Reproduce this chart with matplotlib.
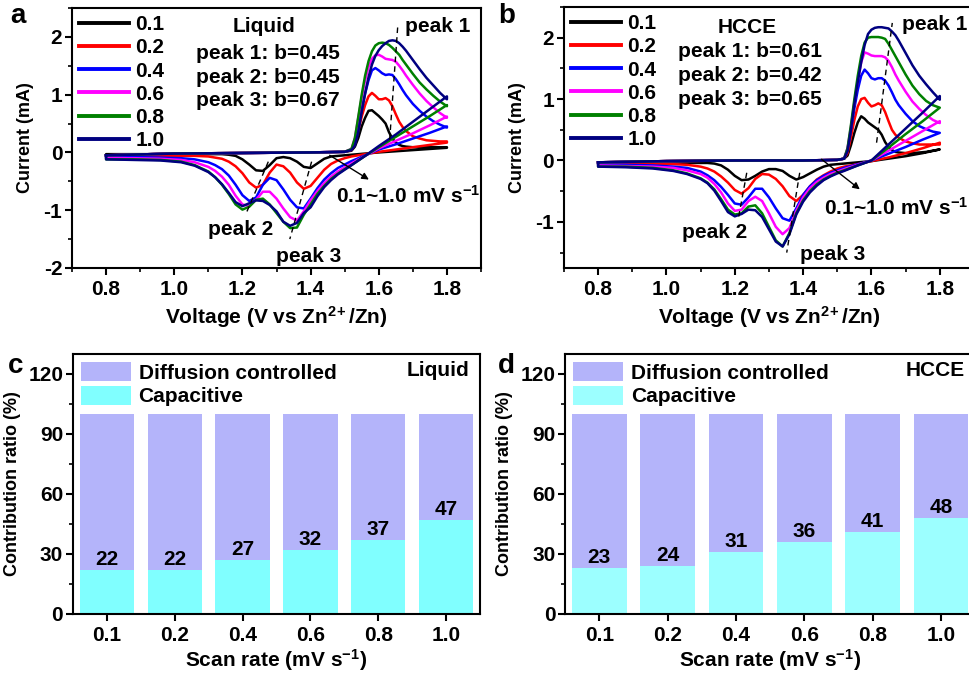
import numpy as np
import matplotlib
matplotlib.use('Agg')
import matplotlib.pyplot as plt
from matplotlib.ticker import MultipleLocator

plt.rcParams['font.family'] = 'Liberation Sans'
plt.rcParams['font.weight'] = 'bold'
plt.rcParams['axes.labelweight'] = 'bold'
plt.rcParams['mathtext.fontset'] = 'custom'
plt.rcParams['mathtext.bf'] = 'Liberation Sans:bold'
plt.rcParams['mathtext.rm'] = 'Liberation Sans:bold'
plt.rcParams['mathtext.default'] = 'bf'
plt.rcParams['axes.unicode_minus'] = False

# scan rates (mV/s)
rates = ['0.1', '0.2', '0.4', '0.6', '0.8', '1.0']
colors = ['black', 'red', 'blue', 'magenta', 'green', 'navy']

# voltage grids for the anodic (up) and cathodic (down) sweeps
v_up = [0.80, 1.00, 1.20, 1.40, 1.50, 1.52, 1.53, 1.54, 1.55, 1.56, 1.57, 1.58, 1.59, 1.60,
        1.61, 1.62, 1.63, 1.64, 1.65, 1.66, 1.67, 1.68, 1.70, 1.72, 1.74, 1.76, 1.78, 1.80]
v_down = [1.80, 1.75, 1.70, 1.65, 1.60, 1.56, 1.52, 1.50, 1.48, 1.46, 1.44, 1.42, 1.40, 1.38,
          1.36, 1.34, 1.32, 1.30, 1.28, 1.26, 1.24, 1.22, 1.20, 1.18, 1.16, 1.14, 1.12, 1.10,
          1.06, 1.02, 0.96, 0.88, 0.80]

# ---- liquid electrolyte CV (mA)
liq_up_01 = [-0.05, -0.02, -0.01, 0.0, 0.01, 0.03, 0.10, 0.25, 0.45, 0.60, 0.72, 0.73, 0.68, 0.63,
             0.57, 0.50, 0.35, 0.24, 0.17, 0.13, 0.11, 0.10, 0.09, 0.09, 0.09, 0.09, 0.09, 0.09]
liq_up_02 = [-0.05, -0.02, -0.01, 0.0, 0.01, 0.04, 0.15, 0.38, 0.62, 0.82, 0.97, 1.03, 0.98, 0.92,
             0.92, 0.94, 0.90, 0.80, 0.66, 0.53, 0.44, 0.37, 0.28, 0.24, 0.21, 0.20, 0.19, 0.19]
liq_up_04 = [-0.05, -0.02, -0.01, 0.0, 0.01, 0.05, 0.20, 0.48, 0.75, 1.02, 1.25, 1.42, 1.46, 1.42,
             1.37, 1.34, 1.35, 1.34, 1.27, 1.18, 1.08, 0.99, 0.84, 0.72, 0.62, 0.54, 0.48, 0.43]
liq_up_06 = [-0.05, -0.02, -0.01, 0.0, 0.01, 0.06, 0.25, 0.60, 0.95, 1.25, 1.48, 1.62, 1.68, 1.69,
             1.66, 1.62, 1.61, 1.60, 1.57, 1.50, 1.42, 1.33, 1.17, 1.02, 0.89, 0.78, 0.68, 0.60]
liq_up_08 = [-0.05, -0.02, -0.01, 0.0, 0.01, 0.06, 0.25, 0.62, 1.00, 1.33, 1.58, 1.75, 1.85, 1.89,
             1.90, 1.89, 1.86, 1.81, 1.75, 1.69, 1.60, 1.52, 1.36, 1.21, 1.09, 0.98, 0.88, 0.80]
liq_up_10 = [-0.05, -0.02, -0.01, 0.0, 0.01, 0.04, 0.12, 0.35, 0.70, 1.02, 1.30, 1.52, 1.67, 1.77,
             1.84, 1.89, 1.93, 1.94, 1.93, 1.89, 1.83, 1.76, 1.60, 1.44, 1.29, 1.16, 1.03, 0.92]

liq_dn_01 = [0.08, 0.06, 0.04, 0.02, 0.0, -0.02, -0.04, -0.05, -0.06, -0.07, -0.11, -0.19, -0.27,
             -0.25, -0.16, -0.10, -0.08, -0.10, -0.22, -0.32, -0.31, -0.21, -0.12, -0.06, -0.04,
             -0.03, -0.03, -0.03, -0.03, -0.03, -0.03, -0.03, -0.03]
liq_dn_02 = [0.17, 0.13, 0.09, 0.05, 0.01, -0.03, -0.07, -0.10, -0.14, -0.20, -0.30, -0.44, -0.58,
             -0.63, -0.52, -0.35, -0.24, -0.21, -0.35, -0.56, -0.61, -0.52, -0.36, -0.24, -0.16,
             -0.11, -0.09, -0.07, -0.06, -0.06, -0.06, -0.06, -0.06]
liq_dn_04 = [0.45, 0.34, 0.24, 0.14, 0.05, -0.05, -0.15, -0.21, -0.27, -0.36, -0.47, -0.62, -0.80,
             -0.97, -0.95, -0.82, -0.64, -0.48, -0.44, -0.56, -0.78, -0.84, -0.74, -0.56, -0.40,
             -0.29, -0.22, -0.17, -0.12, -0.10, -0.09, -0.08, -0.08]
liq_dn_06 = [0.62, 0.47, 0.33, 0.20, 0.07, -0.06, -0.19, -0.26, -0.33, -0.42, -0.53, -0.67, -0.83,
             -1.02, -1.18, -1.12, -0.97, -0.80, -0.68, -0.68, -0.82, -0.93, -0.90, -0.75, -0.56,
             -0.42, -0.32, -0.25, -0.17, -0.13, -0.11, -0.10, -0.10]
liq_dn_08 = [0.82, 0.63, 0.45, 0.27, 0.09, -0.06, -0.22, -0.29, -0.37, -0.46, -0.58, -0.72, -0.90,
             -1.08, -1.30, -1.31, -1.20, -1.05, -0.90, -0.80, -0.82, -0.94, -0.99, -0.90, -0.72,
             -0.56, -0.43, -0.33, -0.22, -0.16, -0.13, -0.12, -0.12]
liq_dn_10 = [0.97, 0.75, 0.53, 0.31, 0.11, -0.06, -0.22, -0.30, -0.38, -0.48, -0.60, -0.76, -0.95,
             -1.05, -1.22, -1.27, -1.20, -1.02, -0.91, -0.84, -0.83, -0.88, -0.93, -0.86, -0.70,
             -0.55, -0.43, -0.34, -0.23, -0.17, -0.14, -0.13, -0.12]

# ---- HCCE CV (mA)
hcce_up_01 = [-0.03, -0.01, 0.0, 0.0, 0.01, 0.03, 0.08, 0.25, 0.45, 0.62, 0.72, 0.68, 0.62, 0.58,
              0.54, 0.50, 0.42, 0.30, 0.22, 0.17, 0.14, 0.13, 0.12, 0.12, 0.13, 0.14, 0.16, 0.18]
hcce_up_02 = [-0.03, -0.01, 0.0, 0.0, 0.01, 0.03, 0.12, 0.38, 0.66, 0.88, 1.00, 1.02, 0.94, 0.88,
              0.90, 0.93, 0.90, 0.79, 0.64, 0.50, 0.42, 0.37, 0.31, 0.28, 0.26, 0.26, 0.26, 0.26]
hcce_up_04 = [-0.03, -0.01, 0.0, 0.0, 0.01, 0.03, 0.18, 0.50, 0.85, 1.15, 1.38, 1.48, 1.42, 1.34,
              1.32, 1.34, 1.34, 1.30, 1.22, 1.11, 0.99, 0.90, 0.76, 0.64, 0.56, 0.51, 0.47, 0.45]
hcce_up_06 = [-0.03, -0.01, 0.0, 0.0, 0.01, 0.03, 0.20, 0.55, 0.95, 1.30, 1.60, 1.76, 1.74, 1.71,
              1.70, 1.70, 1.70, 1.68, 1.62, 1.52, 1.40, 1.30, 1.12, 0.96, 0.84, 0.74, 0.66, 0.61]
hcce_up_08 = [-0.03, -0.01, 0.0, 0.0, 0.01, 0.03, 0.20, 0.58, 1.00, 1.38, 1.70, 1.92, 2.00, 2.01,
              2.01, 2.01, 2.00, 1.98, 1.90, 1.80, 1.70, 1.60, 1.40, 1.22, 1.08, 0.97, 0.90, 0.86]
hcce_up_10 = [-0.03, -0.01, 0.0, 0.0, 0.01, 0.03, 0.15, 0.50, 0.92, 1.28, 1.60, 1.88, 2.06, 2.13,
              2.16, 2.17, 2.17, 2.16, 2.15, 2.10, 2.04, 1.95, 1.75, 1.55, 1.38, 1.24, 1.11, 0.99]

hcce_dn_01 = [0.18, 0.12, 0.07, 0.03, -0.01, -0.03, -0.05, -0.06, -0.07, -0.10, -0.15, -0.21, -0.27,
              -0.31, -0.25, -0.17, -0.14, -0.14, -0.18, -0.25, -0.31, -0.32, -0.25, -0.15, -0.08,
              -0.05, -0.04, -0.04, -0.04, -0.03, -0.03, -0.03, -0.03]
hcce_dn_02 = [0.29, 0.20, 0.12, 0.05, -0.01, -0.06, -0.10, -0.13, -0.18, -0.24, -0.31, -0.42, -0.56,
              -0.66, -0.58, -0.42, -0.30, -0.23, -0.22, -0.30, -0.45, -0.54, -0.48, -0.36, -0.26,
              -0.18, -0.13, -0.10, -0.07, -0.06, -0.05, -0.05, -0.05]
hcce_dn_04 = [0.45, 0.34, 0.22, 0.11, 0.0, -0.06, -0.12, -0.16, -0.20, -0.25, -0.32, -0.42, -0.56,
              -0.78, -0.98, -0.94, -0.78, -0.60, -0.46, -0.46, -0.60, -0.72, -0.70, -0.56, -0.43,
              -0.32, -0.24, -0.18, -0.12, -0.10, -0.08, -0.07, -0.07]
hcce_dn_06 = [0.64, 0.48, 0.32, 0.16, 0.0, -0.07, -0.14, -0.18, -0.22, -0.28, -0.35, -0.45, -0.60,
              -0.82, -1.10, -1.20, -1.08, -0.86, -0.66, -0.59, -0.66, -0.80, -0.82, -0.70, -0.52,
              -0.38, -0.28, -0.22, -0.16, -0.12, -0.10, -0.09, -0.08]
hcce_dn_08 = [0.86, 0.64, 0.43, 0.21, 0.0, -0.08, -0.16, -0.20, -0.25, -0.31, -0.39, -0.50, -0.65,
              -0.86, -1.18, -1.40, -1.30, -1.08, -0.86, -0.73, -0.75, -0.86, -0.88, -0.80, -0.63,
              -0.47, -0.36, -0.29, -0.21, -0.16, -0.12, -0.10, -0.10]
hcce_dn_10 = [1.05, 0.78, 0.52, 0.26, 0.0, -0.08, -0.17, -0.21, -0.26, -0.32, -0.41, -0.52, -0.67,
              -0.88, -1.20, -1.40, -1.32, -1.12, -0.92, -0.81, -0.80, -0.87, -0.91, -0.84, -0.66,
              -0.49, -0.37, -0.30, -0.22, -0.17, -0.13, -0.11, -0.10]

# capacitive share (%) from b-value analysis
cap_liquid = [22, 22, 27, 32, 37, 47]
cap_hcce = [23, 24, 31, 36, 41, 48]

liq_up = [liq_up_01, liq_up_02, liq_up_04, liq_up_06, liq_up_08, liq_up_10]
liq_dn = [liq_dn_01, liq_dn_02, liq_dn_04, liq_dn_06, liq_dn_08, liq_dn_10]
hcce_up = [hcce_up_01, hcce_up_02, hcce_up_04, hcce_up_06, hcce_up_08, hcce_up_10]
hcce_dn = [hcce_dn_01, hcce_dn_02, hcce_dn_04, hcce_dn_06, hcce_dn_08, hcce_dn_10]

FS = 15
YFS = 13

fig = plt.figure(figsize=(9.69, 6.75), dpi=100)
ax_a = fig.add_axes([0.0743, 0.6030, 0.4221, 0.3852])
ax_b = fig.add_axes([0.5820, 0.6030, 0.4231, 0.3867])
ax_c = fig.add_axes([0.0753, 0.0904, 0.4200, 0.3852])
ax_d = fig.add_axes([0.5831, 0.0904, 0.4231, 0.3852])


def style(ax):
    for s in ax.spines.values():
        s.set_linewidth(1.5)
    ax.tick_params(which='major', direction='out', length=5, width=1.5, labelsize=FS)
    ax.tick_params(which='minor', direction='out', length=3, width=1.2)
    ax.tick_params(axis='x', pad=4)
    ax.tick_params(axis='y', pad=2)
    ax.tick_params(top=False, right=False, which='both')


def cv_panel(ax, ups, dns, ylim, name, name_pos, blabels, bx, by, peak_pos, rate_pos,
             guides, arrow):
    for up, dn, c, r in zip(ups, dns, colors, rates):
        v = v_up + v_down + [v_up[0]]
        i = up + dn + [up[0]]
        ax.plot(v, i, color=c, lw=1.8, label=r)
    ax.set_xlim(0.7, 1.9)
    ax.set_ylim(*ylim)
    ax.xaxis.set_major_locator(MultipleLocator(0.2))
    ax.xaxis.set_minor_locator(MultipleLocator(0.1))
    ax.yaxis.set_major_locator(MultipleLocator(1))
    ax.yaxis.set_minor_locator(MultipleLocator(0.5))
    style(ax)
    ax.set_xlabel(r'Voltage (V vs Zn$^{2\!+}$/Zn)', fontsize=FS, labelpad=3)
    ax.set_ylabel('Current (mA)', fontsize=YFS, labelpad=7)
    leg = ax.legend(loc='upper left', bbox_to_anchor=(0.0, 1.0), frameon=False, fontsize=FS,
                    handlelength=2.4, handletextpad=0.3, labelspacing=0.2, borderpad=0.25,
                    borderaxespad=0.1)
    for h in leg.get_lines():
        h.set_linewidth(2.8)
    # guide lines through the peak positions
    for (x0, y0), (x1, y1) in guides:
        ax.plot([x0, x1], [y0, y1], color='black', lw=1.0, ls=(0, (4, 3)))
    ax.text(name_pos[0], name_pos[1], name, fontsize=FS, ha='center', va='center')
    for lab, y in zip(blabels, by):
        ax.text(bx, y, lab, fontsize=FS, ha='left', va='center')
    (p1x, p1y), (p2x, p2y), (p3x, p3y) = peak_pos
    ax.text(p1x, p1y, 'peak 1', fontsize=FS, ha='left', va='center')
    ax.text(p2x, p2y, 'peak 2', fontsize=FS, ha='center', va='center')
    ax.text(p3x, p3y, 'peak 3', fontsize=FS, ha='center', va='center')
    ax.text(rate_pos[0], rate_pos[1], '0.1~1.0 mV s$^{-1}$', fontsize=FS, ha='left', va='center')
    ax.annotate('', xy=arrow[1], xytext=arrow[0],
                arrowprops=dict(arrowstyle='-|>', color='black', lw=1.0,
                                mutation_scale=10, shrinkA=0, shrinkB=0))


cv_panel(ax_a, liq_up, liq_dn, (-2, 2.5), 'Liquid', (1.263, 2.18),
         ['peak 1: b=0.45', 'peak 2: b=0.45', 'peak 3: b=0.67'], 1.065, [1.72, 1.30, 0.90],
         [(1.677, 2.18), (1.194, -1.34), (1.393, -1.80)], (1.474, -0.76),
         [((1.632, 0.22), (1.656, 2.21)), ((1.276, -0.16), (1.212, -1.04)),
          ((1.403, -0.16), (1.339, -1.50))],
         ((1.456, -0.05), (1.571, -0.47)))

cv_panel(ax_b, hcce_up, hcce_dn, (-1.75, 2.5), 'HCCE', (1.236, 2.16),
         ['peak 1: b=0.61', 'peak 2: b=0.42', 'peak 3: b=0.65'], 1.034, [1.77, 1.38, 0.99],
         [(1.689, 2.21), (1.142, -1.17), (1.487, -1.53)], (1.462, -0.77),
         [((1.615, 0.29), (1.661, 2.24)), ((1.235, -0.20), (1.210, -0.96)),
          ((1.390, -0.20), (1.352, -1.50))],
         ((1.454, 0.02), (1.566, -0.47)))


def bar_panel(ax, cap, name, cap_color):
    x = np.arange(len(rates))
    cap = np.array(cap)
    diff = 100 - cap
    ax.bar(x, diff, 0.8, bottom=cap, color='#b4b4fa', label='Diffusion controlled')
    ax.bar(x, cap, 0.8, color=cap_color, label='Capacitive')
    for xi, v in zip(x, cap):
        ax.text(xi, v + 5, str(v), fontsize=FS, ha='center', va='center')
    ax.set_xlim(-0.5, 5.5)
    ax.set_ylim(0, 130)
    ax.set_xticks(x)
    ax.set_xticklabels(rates)
    ax.yaxis.set_major_locator(MultipleLocator(30))
    ax.yaxis.set_minor_locator(MultipleLocator(15))
    style(ax)
    ax.set_xlabel('Scan rate (mV s$^{-1}$)', fontsize=FS, labelpad=1)
    ax.set_ylabel('Contribution ratio (%)', fontsize=YFS, labelpad=5)
    ax.legend(loc='upper left', bbox_to_anchor=(0.0, 1.0), frameon=False, fontsize=FS,
              handlelength=2.4, handleheight=1.0, handletextpad=0.35, labelspacing=0.15,
              borderpad=0.3, borderaxespad=0.1)
    ax.text(0.975, 0.935, name, transform=ax.transAxes, fontsize=FS, ha='right', va='center')


bar_panel(ax_c, cap_liquid, 'Liquid', '#80ffff')
bar_panel(ax_d, cap_hcce, 'HCCE', '#9cffff')

for lab, (x, y) in zip('abcd', [(0.011, 0.977), (0.514, 0.977), (0.008, 0.458), (0.514, 0.458)]):
    fig.text(x, y, lab, fontsize=20, fontweight='bold', ha='left', va='center')

fig.savefig('out.png', dpi=100)
